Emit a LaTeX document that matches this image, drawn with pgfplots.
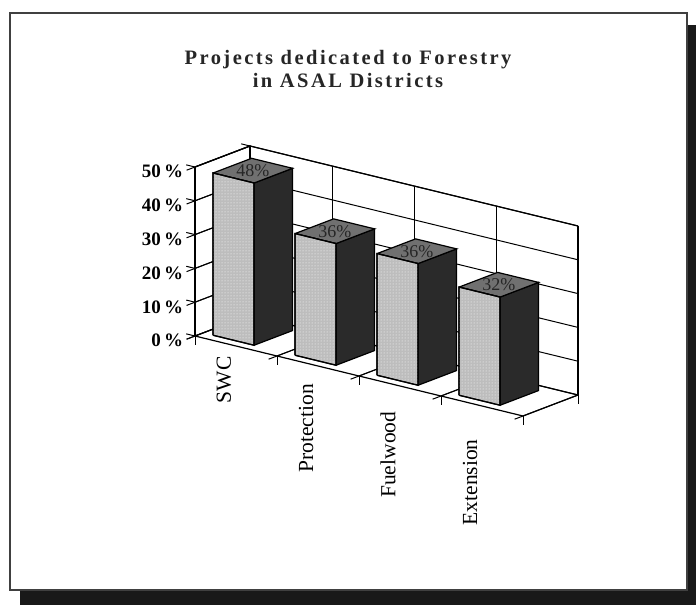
\documentclass[border=0pt]{standalone}
\usepackage{pgfplots}
\pgfplotsset{compat=1.18}
\usepackage{pgfplotstable}
\usetikzlibrary{patterns}
\usepackage{fontspec}
\setmainfont{Liberation Serif}
\newfontfamily\titlefont[LetterSpace=12]{Liberation Serif}

\definecolor{barfront}{HTML}{BDBDBD}
\definecolor{barside}{HTML}{2A2A2A}
\definecolor{bartop}{HTML}{707070}

% share of projects per forestry activity (percent)
\pgfplotstableread{
pos value
0 48
1 36
2 36
3 32
}\shares

\tikzset{barlabel/.style={font=\fontsize{18}{18}\selectfont, text=black!85}}

\begin{document}
\begin{tikzpicture}[x=1pt,y=1pt]
\useasboundingbox (0,0) rectangle (696,605);
% drop shadow and frame
\fill[black!90] (20,0) rectangle (696,580);
\filldraw[fill=white, draw=black!75, line width=1.5pt] (10,15) rectangle (687,592);
% title
\node[anchor=base, font=\titlefont\bfseries\fontsize{20.5}{24}\selectfont, text=black!85] at (348,540) {Projects dedicated to Forestry};
\node[anchor=base, font=\titlefont\bfseries\fontsize{20.5}{24}\selectfont, text=black!85] at (348,517) {in ASAL Districts};

\begin{axis}[
  at={(195pt,269pt)}, anchor=origin,
  x={(82pt,-20pt)}, y={(55pt,21pt)}, z={(0pt,3.38pt)},
  xmin=0, xmax=4, ymin=0, ymax=1, zmin=0, zmax=50,
  xtick={0,1,2,3,4}, xticklabels={},
  extra x ticks={0.5,1.5,2.5,3.5},
  extra x tick labels={SWC,Protection,Fuelwood,Extension},
  extra x tick style={xmajorgrids=false, major tick length=0pt,
    xticklabel style={xshift=-12pt, yshift={-7pt-7.6pt*\ticknum}, rotate=90, anchor=east,
      font=\fontsize{21.5}{21.5}\selectfont}},
  ytick=\empty,
  ztick={0,10,20,30,40,50},
  zticklabels={0\,\%,10\,\%,20\,\%,30\,\%,40\,\%,50\,\%},
  zticklabel style={font=\bfseries\fontsize{19}{19}\selectfont},
  xtick pos=left, ztick pos=left,
  xmajorgrids, zmajorgrids,
  grid style={black, line width=1pt},
  axis line style={black, line width=1.2pt},
  major tick style={black, line width=1pt},
  tick align=outside,
  major tick length=9pt,
  clip=false,
]
% side wall and floor grid
\draw[black, line width=1.2pt] (axis cs:0,0,0) -- (axis cs:0,0,50) -- (axis cs:0,1,50) -- (axis cs:0,1,0);
\pgfplotsinvokeforeach{10,20,30,40}{\draw[black, line width=1pt] (axis cs:0,0,#1) -- (axis cs:0,1,#1);}
\pgfplotsinvokeforeach{1,2,3}{\draw[black, line width=1pt] (axis cs:#1,0,0) -- (axis cs:#1,1,0);}
\pgfplotsinvokeforeach{0,1,2,3}{
  \pgfplotstablegetelem{#1}{value}\of\shares
  \let\barval\pgfplotsretval
  \pgfmathsetmacro\xl{#1+0.12}
  \pgfmathsetmacro\xr{#1+0.62}
  \pgfmathsetmacro\xc{#1+0.37}
  % right side face
  \addplot3[fill=barside, draw=black, line width=1.2pt, forget plot]
    coordinates {(\xr,0.15,0) (\xr,0.85,0) (\xr,0.85,\barval) (\xr,0.15,\barval) (\xr,0.15,0)};
  % top face
  \addplot3[fill=bartop, draw=black, line width=1.2pt, forget plot]
    coordinates {(\xl,0.15,\barval) (\xr,0.15,\barval) (\xr,0.85,\barval) (\xl,0.85,\barval) (\xl,0.15,\barval)};
  % front face, dotted
  \addplot3[fill=barfront, postaction={pattern=dots, pattern color=white},
      draw=black, line width=1.2pt, forget plot]
    coordinates {(\xl,0.15,0) (\xr,0.15,0) (\xr,0.15,\barval) (\xl,0.15,\barval) (\xl,0.15,0)};
  \edef\tmp{\noexpand\node[barlabel] at (axis cs:\xc,0.5,\barval) {\barval\noexpand\%};}
  \tmp
}
\end{axis}
\end{tikzpicture}
\end{document}
